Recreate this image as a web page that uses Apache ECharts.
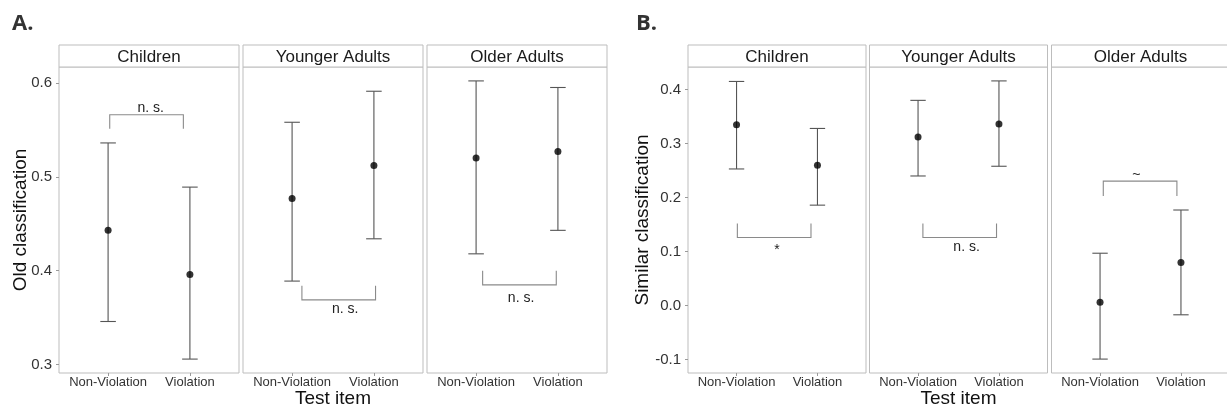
<!DOCTYPE html>
<html>
<head>
<meta charset="utf-8">
<script src="https://cdn.jsdelivr.net/npm/echarts@6/dist/echarts.min.js"></script>
<style>
  html, body { margin: 0; padding: 0; background: #fff; }
  #chart { width: 1227px; height: 409px; }
</style>
</head>
<body>
<div id="chart"></div>
<script>
// Test item categories and age-group facets
const categories = ['Non-Violation', 'Violation'];
const groups = ['Children', 'Younger Adults', 'Older Adults'];

// A. Old classification — rows: age group, columns: test item
const oldMean  = [[0.443, 0.396], [0.477, 0.512], [0.520, 0.527]];
const oldLower = [[0.346, 0.306], [0.389, 0.434], [0.418, 0.443]];
const oldUpper = [[0.536, 0.489], [0.558, 0.591], [0.602, 0.595]];

// B. Similar classification — rows: age group, columns: test item
const simMean  = [[0.335, 0.260], [0.312, 0.336], [0.006, 0.080]];
const simLower = [[0.253, 0.186], [0.240, 0.258], [-0.099, -0.017]];
const simUpper = [[0.415, 0.328], [0.380, 0.416], [0.097, 0.177]];

// y tick labels
const oldTicks = [0.3, 0.4, 0.5, 0.6];
const simTicks = [-0.1, 0.0, 0.1, 0.2, 0.3, 0.4];

// significance markers per age group
const oldSigLabels = ['n. s.', 'n. s.', 'n. s.'];
const simSigLabels = ['*', 'n. s.', '~'];
// brackets in data space: [x start, x end, bar y, leg end y, label x, label y]
const oldBrackets = [
  [1.02, 1.92, 0.566, 0.551, 1.52, 0.573],
  [1.12, 2.02, 0.369, 0.384, 1.65, 0.359],
  [1.08, 1.98, 0.385, 0.400, 1.55, 0.371]
];
const simBrackets = [
  [1.01, 1.92, 0.126, 0.152, 1.50, 0.102],
  [1.06, 1.97, 0.126, 0.152, 1.60, 0.108],
  [1.04, 1.95, 0.2305, 0.203, 1.45, 0.2407]
];

// ---- layout ----
const FONT = '"Liberation Sans", Arial, Helvetica, sans-serif';
const panelTop = 67, panelHeight = 306, stripHeight = 22;
const panelLefts  = [59, 243, 427, 688, 869.5, 1051.5];
const panelWidths = [180, 180, 180, 178, 178, 178];
const borderColor = '#bdbdbd';
const capWidth = 0.19;

// ggplot-like 5% expansion of the continuous range
function expandRange(lo, hi) {
  const all = lo.flat().concat(hi.flat());
  const mn = Math.min(...all), mx = Math.max(...all);
  const pad = (mx - mn) * 0.05;
  return [mn - pad, mx + pad];
}
const oldRange = expandRange(oldLower, oldUpper);
const simRange = expandRange(simLower, simUpper);

function renderErrorBar(params, api) {
  const x = api.value(0);
  const lo = api.coord([x, api.value(1)]);
  const hi = api.coord([x, api.value(2)]);
  const half = api.size([capWidth, 0])[0] / 2;
  const style = { stroke: '#555', lineWidth: 1.1, fill: null };
  return {
    type: 'group',
    children: [
      { type: 'line', shape: { x1: lo[0], y1: lo[1], x2: hi[0], y2: hi[1] }, style },
      { type: 'line', shape: { x1: hi[0] - half, y1: hi[1], x2: hi[0] + half, y2: hi[1] }, style },
      { type: 'line', shape: { x1: lo[0] - half, y1: lo[1], x2: lo[0] + half, y2: lo[1] }, style }
    ]
  };
}

function makeBracketRenderer(label) {
  return function (params, api) {
    const a = api.coord([api.value(0), api.value(3)]);
    const b = api.coord([api.value(0), api.value(2)]);
    const c = api.coord([api.value(1), api.value(2)]);
    const d = api.coord([api.value(1), api.value(3)]);
    const t = api.coord([api.value(4), api.value(5)]);
    return {
      type: 'group',
      children: [
        { type: 'polyline', shape: { points: [a, b, c, d] },
          style: { stroke: '#8a8a8a', lineWidth: 1.1, fill: null } },
        { type: 'text', x: t[0], y: t[1],
          style: { text: label, align: 'center', verticalAlign: 'middle',
                   fontSize: 14, fontFamily: FONT, fill: '#222' } }
      ]
    };
  };
}

const grids = [], xAxes = [], yAxes = [], series = [], graphics = [];

for (let i = 0; i < 6; i++) {
  const isA = i < 3;
  const g = i % 3;
  const mean = isA ? oldMean : simMean;
  const lower = isA ? oldLower : simLower;
  const upper = isA ? oldUpper : simUpper;
  const range = isA ? oldRange : simRange;
  const ticks = isA ? oldTicks : simTicks;
  const brackets = isA ? oldBrackets : simBrackets;
  const sig = isA ? oldSigLabels : simSigLabels;

  grids.push({
    left: panelLefts[i], top: panelTop, width: panelWidths[i], height: panelHeight,
    show: true, borderColor: borderColor, borderWidth: 1, backgroundColor: '#fff',
    containLabel: false, outerBoundsMode: 'none'
  });

  xAxes.push({
    gridIndex: i, type: 'value', min: 0.4, max: 2.6, position: 'bottom',
    splitLine: { show: false }, axisLine: { show: false, onZero: false },
    axisTick: { show: true, customValues: [1, 2], length: 3, lineStyle: { color: '#9a9a9a', width: 1 } },
    axisLabel: {
      customValues: [1, 2], margin: 3, fontSize: 13, fontFamily: FONT, color: '#333',
      formatter: v => categories[Math.round(v) - 1]
    },
    name: g === 1 ? 'Test item' : '', nameLocation: 'middle', nameGap: 16,
    nameMoveOverlap: false,
    nameTextStyle: { fontSize: 19, fontFamily: FONT, color: '#111' }
  });

  const first = g === 0;
  yAxes.push({
    gridIndex: i, type: 'value', min: range[0], max: range[1],
    splitLine: { show: false }, axisLine: { show: false, onZero: false },
    axisTick: { show: first, customValues: ticks, length: 3, lineStyle: { color: '#9a9a9a', width: 1 } },
    axisLabel: {
      show: first, customValues: ticks, margin: 7, fontSize: 15, fontFamily: FONT, color: '#333',
      formatter: v => v.toFixed(1)
    },
    name: first ? (isA ? 'Old classification' : 'Similar classification') : '',
    nameLocation: 'middle', nameGap: isA ? 29 : 36, nameMoveOverlap: false,
    nameTextStyle: { fontSize: 19, fontFamily: FONT, color: '#111' }
  });

  series.push({
    type: 'custom', xAxisIndex: i, yAxisIndex: i,
    renderItem: renderErrorBar,
    encode: { x: 0, y: [1, 2] },
    data: categories.map((c, j) => [j + 1, lower[g][j], upper[g][j]]),
    z: 2, silent: true
  });
  series.push({
    type: 'scatter', xAxisIndex: i, yAxisIndex: i,
    symbol: 'circle', symbolSize: 7,
    itemStyle: { color: '#000' },
    data: categories.map((c, j) => [j + 1, mean[g][j]]),
    z: 3, silent: true
  });
  series.push({
    type: 'custom', xAxisIndex: i, yAxisIndex: i,
    renderItem: makeBracketRenderer(sig[g]),
    encode: { x: [0, 1], y: [2, 3] },
    data: [brackets[g]],
    z: 2, silent: true
  });

  // facet strip
  graphics.push({
    type: 'rect', z: 10,
    shape: { x: panelLefts[i], y: panelTop - stripHeight, width: panelWidths[i], height: stripHeight },
    style: { fill: '#fff', stroke: borderColor, lineWidth: 1 }
  });
  graphics.push({
    type: 'text', z: 11,
    x: panelLefts[i] + panelWidths[i] / 2, y: panelTop - stripHeight / 2 + 1,
    style: { text: groups[g], align: 'center', verticalAlign: 'middle',
             fontSize: 17, fontFamily: FONT, fill: '#1a1a1a' }
  });
}

graphics.push({
  type: 'text', x: 12, y: 13, z: 11,
  style: { text: 'A.', fontSize: 22, fontWeight: 'bold', fontFamily: '"Open Sans", sans-serif', fill: '#333' }
});
graphics.push({
  type: 'text', x: 636, y: 13, z: 11,
  style: { text: 'B.', fontSize: 22, fontWeight: 'bold', fontFamily: '"Open Sans", sans-serif', fill: '#333' }
});

const chart = echarts.init(document.getElementById('chart'), null, { renderer: 'canvas' });
chart.setOption({
  backgroundColor: '#fff',
  animation: false,
  grid: grids,
  xAxis: xAxes,
  yAxis: yAxes,
  series: series,
  graphic: graphics
});
</script>
</body>
</html>
